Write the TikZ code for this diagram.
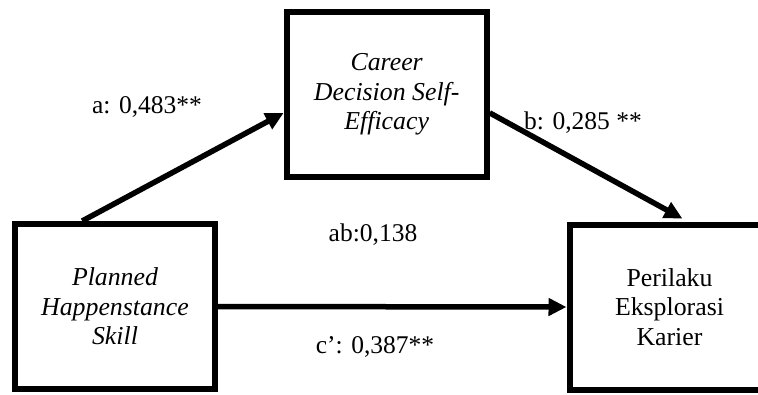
\documentclass[tikz,border=0pt]{standalone}
\usepackage{fontspec}
\setmainfont{Liberation Serif}
\usetikzlibrary{arrows.meta}
\begin{document}
\begin{tikzpicture}[x=1bp,y=-1bp,
  box/.style={draw, line width=6bp, minimum width=200bp, minimum height=165bp, inner sep=0pt, align=center, font=\fontsize{25.8bp}{29.5bp}\selectfont},
  arr/.style={line width=5.5bp, -{Triangle[length=18bp,width=17bp]}},
  lab/.style={font=\fontsize{25.5bp}{29.5bp}\selectfont, inner sep=0pt}]
\clip (0,0) rectangle (758,394);
\fill[white] (0,0) rectangle (758,394);
\node[box, font=\fontsize{25.8bp}{29.5bp}\selectfont\itshape] (L) at (115,306.5) {Planned\\Happenstance\\Skill};
\node[box, font=\fontsize{25.8bp}{29.5bp}\selectfont\itshape] (T) at (386.7,94.7) {Career\\Decision Self-\\Efficacy};
\node[box] (R) at (669.5,307) {Perilaku\\Eksplorasi\\Karier};
\draw[arr] (L.111) -- (T.190);
\draw[arr, shorten >=6bp] (T.-10) -- (R.78);
\draw[arr] (L.east) -- (R.west);
\node[lab] (la) at (147,107) {a: 0,483**};
\node[lab] (lb) at (583,123) {b: 0,285 **};
\node[lab] (lab) at (373,235) {ab:0,138};
\node[lab] (lc) at (375,347) {c’: 0,387**};
\end{tikzpicture}
\end{document}
